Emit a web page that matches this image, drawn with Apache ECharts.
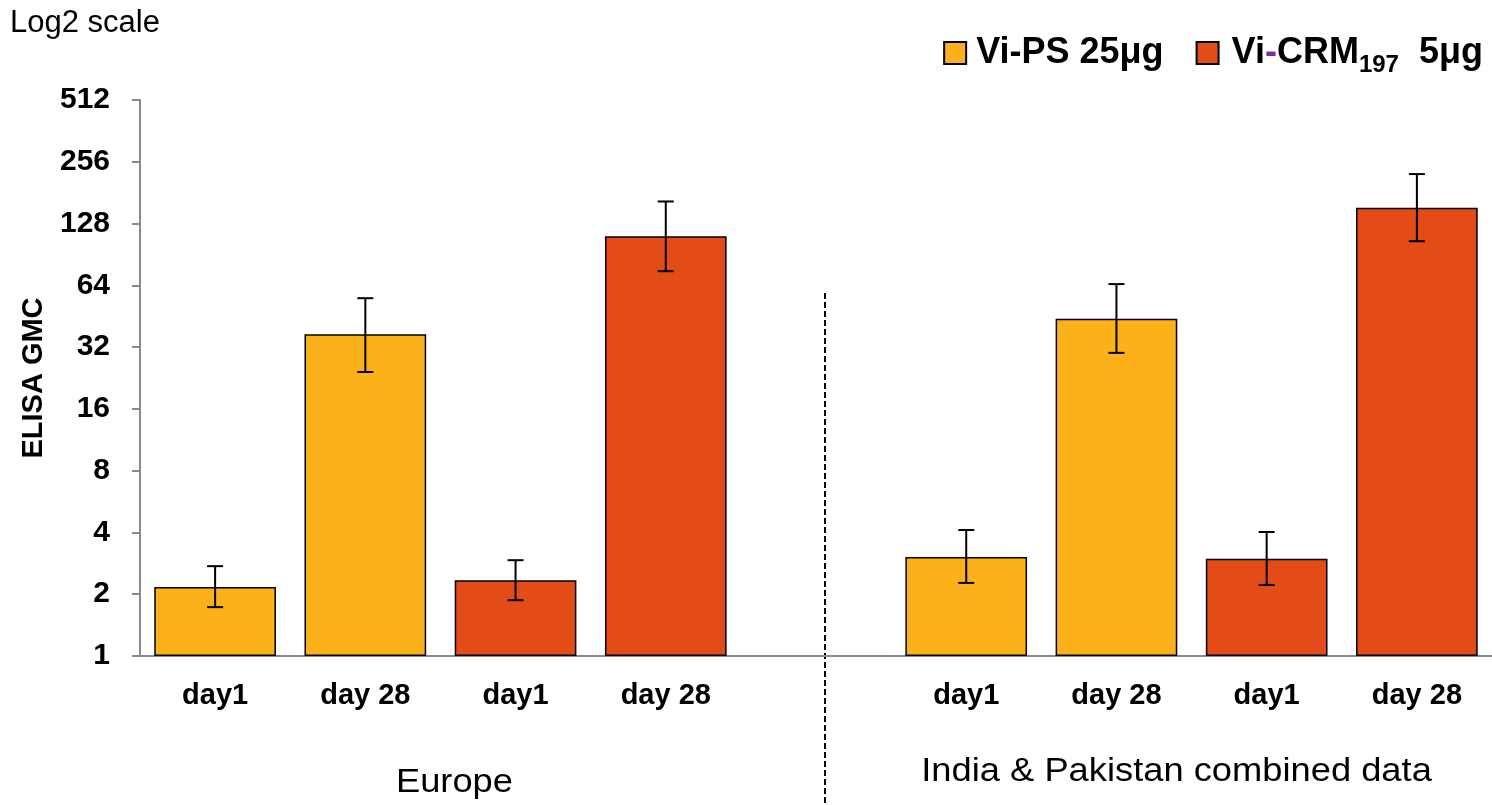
<!DOCTYPE html>
<html>
<head>
<meta charset="utf-8">
<script src="https://cdn.jsdelivr.net/npm/echarts@6/dist/echarts.min.js"></script>
<style>
  html, body { margin: 0; padding: 0; background: #fff; }
  #chart { width: 1492px; height: 805px; }
</style>
</head>
<body>
<div id="chart"></div>
<script>
// Category slots: Europe (4 bars), an empty spacer slot, India & Pakistan (4 bars)
const categories = ['day1', 'day 28', 'day1', 'day 28', '', 'day1', 'day 28', 'day1', 'day 28'];

// ELISA geometric mean concentrations with 95% CI bounds
const viPsGmc  = [2.17, 37.0, null, null, null, 3.04, 44.0, null, null];
const viPsLow  = [1.73, 24.2, null, null, null, 2.27, 30.0, null, null];
const viPsHigh = [2.74, 55.4, null, null, null, 4.11, 64.9, null, null];

const viCrmGmc  = [null, null, 2.34, 111, null, null, null, 2.98, 153];
const viCrmLow  = [null, null, 1.87, 75,  null, null, null, 2.22, 105];
const viCrmHigh = [null, null, 2.93, 164, null, null, null, 4.02, 223];

const yTicks = [1, 2, 4, 8, 16, 32, 64, 128, 256, 512];
const groupNames = ['Europe', 'India & Pakistan combined data'];

const YELLOW = '#FCB019';
const RED = '#E34C17';
const FONT = '"Liberation Sans", Arial, sans-serif';

function errorItems(low, high) {
  const out = [];
  low.forEach((l, i) => { if (l != null) out.push([i, l, high[i]]); });
  return out;
}

function renderErrorBar(params, api) {
  const x = api.value(0);
  const lo = api.coord([x, api.value(1)]);
  const hi = api.coord([x, api.value(2)]);
  const cap = 8;
  const style = { stroke: '#000', lineWidth: 2 };
  return {
    type: 'group',
    children: [
      { type: 'line', shape: { x1: hi[0], y1: hi[1], x2: lo[0], y2: lo[1] }, style },
      { type: 'line', shape: { x1: hi[0] - cap, y1: hi[1], x2: hi[0] + cap, y2: hi[1] }, style },
      { type: 'line', shape: { x1: lo[0] - cap, y1: lo[1], x2: lo[0] + cap, y2: lo[1] }, style }
    ]
  };
}

const chart = echarts.init(document.getElementById('chart'), null, { renderer: 'canvas' });

const option = {
  backgroundColor: '#fff',
  animation: false,
  textStyle: { fontFamily: FONT },
  grid: { left: 140, right: 0, top: 100, bottom: 149 },
  legend: {
    top: 24,
    right: 4,
    icon: 'rect',
    itemWidth: 22,
    itemHeight: 22,
    itemGap: 32,
    data: ['Vi-PS 25μg', 'Vi-CRM 5μg'],
    formatter: function (name) {
      if (name === 'Vi-CRM 5μg') return '{h|}{b|Vi}{p|-}{b|CRM}{s|197}{b|  5μg}';
      return '{g|}{b|' + name + '}';
    },
    textStyle: {
      fontFamily: FONT,
      rich: {
        g: { width: 5 },
        h: { width: 8 },
        b: { fontSize: 36, fontWeight: 'bold', color: '#000', fontFamily: FONT, lineHeight: 42 },
        p: { fontSize: 36, fontWeight: 'bold', color: '#7030A0', fontFamily: FONT, lineHeight: 42 },
        s: { fontSize: 24, fontWeight: 'bold', color: '#000', fontFamily: FONT, lineHeight: 24, padding: [24, 0, 0, 0] }
      }
    }
  },
  xAxis: {
    type: 'category',
    data: categories,
    axisLine: { lineStyle: { color: '#898989', width: 2 } },
    axisTick: { show: false },
    axisLabel: {
      interval: 0,
      margin: 25,
      color: '#000',
      fontWeight: 'bold',
      fontSize: 29,
      fontFamily: FONT
    },
    splitLine: { show: false }
  },
  yAxis: {
    type: 'log',
    logBase: 2,
    min: yTicks[0],
    max: yTicks[yTicks.length - 1],
    interval: 1,
    splitNumber: yTicks.length - 1,
    name: 'ELISA GMC',
    nameLocation: 'middle',
    nameRotate: 90,
    nameGap: 92,
    nameTextStyle: { color: '#000', fontWeight: 'bold', fontSize: 29, fontFamily: FONT },
    axisLine: { show: true, lineStyle: { color: '#898989', width: 2 } },
    axisTick: { show: true, length: 8, lineStyle: { color: '#898989', width: 2 } },
    axisLabel: {
      margin: 30,
      color: '#000',
      fontWeight: 'bold',
      fontSize: 30,
      fontFamily: FONT,
      formatter: v => String(Math.round(v))
    },
    splitLine: { show: false }
  },
  series: [
    {
      name: 'Vi-PS 25μg',
      type: 'bar',
      data: viPsGmc,
      barWidth: '81%',
      barGap: '-100%',
      itemStyle: { color: YELLOW, borderColor: '#000', borderWidth: 1.5 }
    },
    {
      name: 'Vi-CRM 5μg',
      type: 'bar',
      data: viCrmGmc,
      barWidth: '81%',
      barGap: '-100%',
      itemStyle: { color: RED, borderColor: '#000', borderWidth: 1.5 }
    },
    {
      type: 'custom',
      name: 'Vi-PS CI',
      renderItem: renderErrorBar,
      data: errorItems(viPsLow, viPsHigh),
      encode: { x: 0, y: [1, 2] },
      z: 10
    },
    {
      type: 'custom',
      name: 'Vi-CRM CI',
      renderItem: renderErrorBar,
      data: errorItems(viCrmLow, viCrmHigh),
      encode: { x: 0, y: [1, 2] },
      z: 10
    }
  ]
};

chart.setOption(option);

// Region divider and region captions placed relative to the category axis
const px = i => chart.convertToPixel({ xAxisIndex: 0 }, i);
const spacerX = px(4) + 9;
const europeX = (px(1) + px(2)) / 2 + 14;
const asiaX = (px(6) + px(7)) / 2 - 15;

chart.setOption({
  graphic: [
    {
      type: 'text',
      left: 10,
      top: 8,
      style: { text: 'Log2 scale', fontSize: 31, fontFamily: FONT, fill: '#000' }
    },
    {
      type: 'line',
      shape: { x1: spacerX, y1: 293, x2: spacerX, y2: 805 },
      style: { stroke: '#000', lineWidth: 2, lineDash: [6, 3] }
    },
    {
      type: 'text',
      x: europeX,
      y: 783,
      scaleX: 1.1,
      style: { text: groupNames[0], fontSize: 33, fontFamily: FONT, fill: '#000', align: 'center', verticalAlign: 'middle' }
    },
    {
      type: 'text',
      x: asiaX,
      y: 772,
      scaleX: 1.1,
      style: { text: groupNames[1], fontSize: 33, fontFamily: FONT, fill: '#000', align: 'center', verticalAlign: 'middle' }
    }
  ]
});
</script>
</body>
</html>
